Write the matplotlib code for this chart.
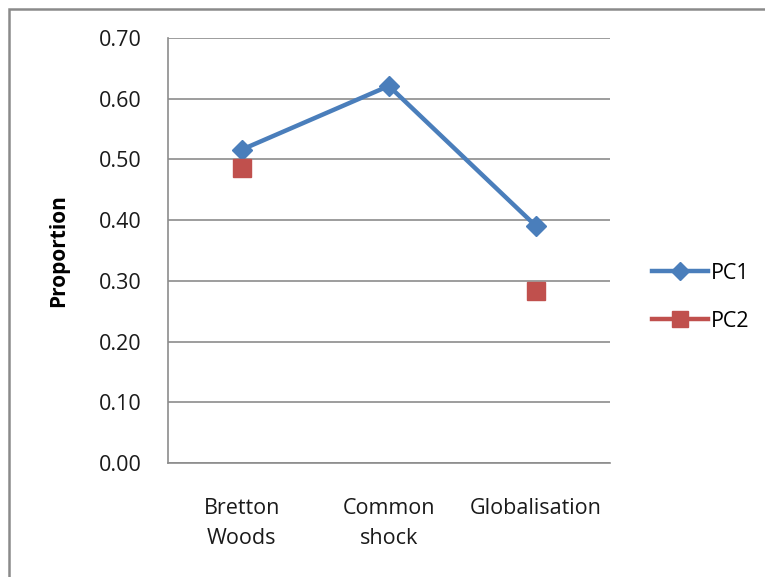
import matplotlib.pyplot as plt
from matplotlib.patches import Rectangle
from matplotlib.lines import Line2D

# periods and principal-component proportions
periods = ['Bretton\nWoods', 'Common\nshock', 'Globalisation']
pc1 = [0.516, 0.621, 0.390]
pc2 = [0.486, None, 0.283]
yticks = [0.0, 0.1, 0.2, 0.3, 0.4, 0.5, 0.6, 0.7]

plt.rcParams['font.family'] = ['Open Sans', 'DejaVu Sans']

fig = plt.figure(figsize=(7.65, 5.77), dpi=100)
ax = fig.add_axes([0.2196, 0.1976, 0.5774, 0.7366])

x = list(range(len(periods)))
ax.plot(x, pc1, color='#4A7EBB', lw=3.2, marker='D', markersize=10,
        label='PC1', solid_capstyle='round')
x2 = [i for i, v in zip(x, pc2) if v is not None]
y2 = [v for v in pc2 if v is not None]
ax.plot(x2, y2, color='#C0504D', lw=3.2, marker='s', markersize=13,
        linestyle='none', label='PC2')

ax.set_xlim(-0.5, len(periods) - 0.5)
ax.set_ylim(0, 0.7)
ax.set_yticks(yticks)
ax.set_yticklabels(['%.2f' % t for t in yticks])
ax.set_xticks(x)
ax.set_xticklabels(periods, linespacing=1.55)
ax.tick_params(axis='both', length=0, labelsize=15.5, colors='#1a1a1a')
ax.tick_params(axis='y', pad=19)
ax.tick_params(axis='x', pad=25)
ax.yaxis.grid(True, color='#8c8c8c', lw=1.2)
ax.set_axisbelow(True)
for side in ['top', 'right']:
    ax.spines[side].set_visible(False)
for side in ['left', 'bottom']:
    ax.spines[side].set_color('#8c8c8c')
    ax.spines[side].set_linewidth(1.2)

ax.set_ylabel('Proportion', fontsize=15, fontweight='bold', labelpad=21)

# legend entries drawn as line + marker for both series
handles = [Line2D([], [], color='#4A7EBB', lw=3.2, marker='D', markersize=9),
           Line2D([], [], color='#C0504D', lw=3.2, marker='s', markersize=11)]
fig.legend(handles, ['PC1', 'PC2'], loc='center left',
           bbox_to_anchor=(0.827, 0.485), frameon=False, fontsize=15.5,
           handlelength=2.6, handletextpad=0.15, labelspacing=1.25)

# chart frame
fig.patches.append(Rectangle((0.0118, -0.1), 1.2, 1.0848, transform=fig.transFigure,
                             fill=False, edgecolor='#8a8a8a', lw=1.8))

fig.savefig('out.png', dpi=100)
